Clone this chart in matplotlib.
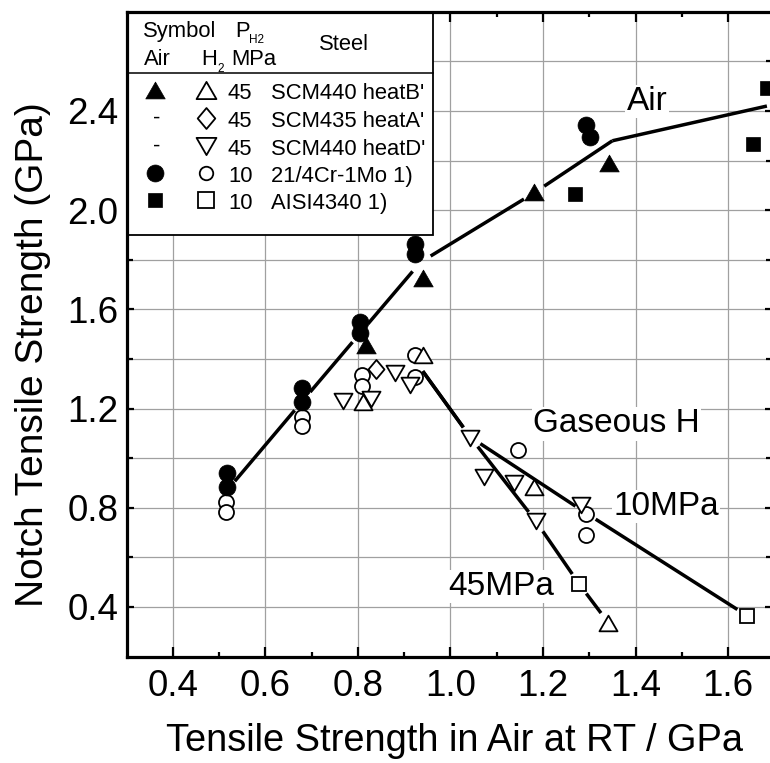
import numpy as np
import matplotlib
matplotlib.use('Agg')
import matplotlib.pyplot as plt
from matplotlib.ticker import FixedLocator, FormatStrFormatter
from matplotlib.transforms import Affine2D
from matplotlib.patches import Rectangle
from matplotlib.lines import Line2D
from matplotlib.path import Path

plt.rcParams['font.family'] = ['Liberation Sans', 'DejaVu Sans']

# ---------------- data ----------------
# SCM440 heatB'
air_B_x = [0.817, 0.941, 1.181, 1.342]
air_B_y = [1.456, 1.725, 2.075, 2.189]
h2_B_x = [0.811, 0.941, 1.181, 1.341]
h2_B_y = [1.225, 1.418, 0.885, 0.337]
# SCM435 heatA'
h2_A_x = [0.840]
h2_A_y = [1.358]
# SCM440 heatD'
h2_D_x = [0.767, 0.829, 0.880, 0.912, 1.043, 1.072, 1.137, 1.185, 1.283]
h2_D_y = [1.229, 1.239, 1.344, 1.297, 1.080, 0.926, 0.902, 0.745, 0.812]
# 2 1/4Cr-1Mo
air_C_x = [0.517, 0.517, 0.680, 0.680, 0.804, 0.804, 0.923, 0.923, 1.292, 1.302]
air_C_y = [0.942, 0.885, 1.282, 1.228, 1.550, 1.504, 1.863, 1.822, 2.344, 2.294]
h2_C_x = [0.515, 0.515, 0.680, 0.680, 0.808, 0.808, 0.923, 0.923, 1.146, 1.292, 1.292]
h2_C_y = [0.825, 0.782, 1.165, 1.130, 1.337, 1.290, 1.418, 1.328, 1.034, 0.776, 0.691]
# AISI4340
air_S_x = [1.269, 1.653, 1.684]
air_S_y = [2.064, 2.267, 2.492]
h2_S_x = [1.278, 1.642]
h2_S_y = [0.493, 0.364]

# trend lines
air_line_x = [0.517, 0.680, 0.805, 0.935, 1.181, 1.350, 1.684]
air_line_y = [0.870, 1.230, 1.505, 1.790, 2.070, 2.280, 2.420]
h10_line_x = [0.925, 1.043, 1.292, 1.642]
h10_line_y = [1.390, 1.085, 0.780, 0.364]
h45_line_x = [0.925, 1.043, 1.185, 1.278, 1.341]
h45_line_y = [1.390, 1.085, 0.745, 0.493, 0.337]

x_ticks = [0.4, 0.6, 0.8, 1.0, 1.2, 1.4, 1.6]
y_ticks = [0.4, 0.8, 1.2, 1.6, 2.0, 2.4]

legend_air = ['tri_up', '-', '-', 'o', 's']
legend_h2 = ['tri_up', 'diamond', 'tri_down', 'o', 's']
legend_p = ['45', '45', '45', '10', '10']
legend_steel = ["SCM440 heatB'", "SCM435 heatA'", "SCM440 heatD'", "21/4Cr-1Mo 1)", "AISI4340 1)"]

# ---------------- figure ----------------
W, H = 770, 763
fig = plt.figure(figsize=(W / 100, H / 100), dpi=100)
ax_l, ax_r, ax_t, ax_b = 126.6, 772.0, 11.8, 656.6
ax = fig.add_axes([ax_l / W, 1 - ax_b / H, (ax_r - ax_l) / W, (ax_b - ax_t) / H])
ax.set_xlim(0.3, 1.695)
ax.set_ylim(0.2, 2.8)
ax.set_axisbelow(True)

TRI_UP = Path([(0, 0.433), (-0.5, -0.433), (0.5, -0.433), (0, 0.433)],
              [Path.MOVETO, Path.LINETO, Path.LINETO, Path.CLOSEPOLY])
TRI_DN = Path([(0, -0.433), (-0.5, 0.433), (0.5, 0.433), (0, -0.433)],
              [Path.MOVETO, Path.LINETO, Path.LINETO, Path.CLOSEPOLY])
DIAM = Path([(0, 0.5), (0.42, 0), (0, -0.5), (-0.42, 0), (0, 0.5)],
            [Path.MOVETO, Path.LINETO, Path.LINETO, Path.LINETO, Path.CLOSEPOLY])
MK = {'tri_up': TRI_UP, 'tri_down': TRI_DN, 'diamond': DIAM, 'o': 'o', 's': 's'}
MS_FILLED = {'tri_up': 14, 'o': 12.2, 's': 10}
MS_OPEN = {'tri_up': 13, 'tri_down': 13, 'diamond': 13.7, 'o': 10.8, 's': 10.2}

# ticks / grid
ax.xaxis.set_major_locator(FixedLocator(x_ticks))
ax.xaxis.set_minor_locator(FixedLocator([0.5, 0.7, 0.9, 1.1, 1.3, 1.5]))
ax.yaxis.set_major_locator(FixedLocator(y_ticks))
ax.yaxis.set_minor_locator(FixedLocator([0.6, 1.0, 1.4, 1.8, 2.2, 2.6]))
ax.xaxis.set_major_formatter(FormatStrFormatter('%.1f'))
ax.yaxis.set_major_formatter(FormatStrFormatter('%.1f'))
ax.tick_params(axis='both', which='both', direction='in', top=True, right=True,
               width=1.6, colors='black', labelsize=26.5)
ax.tick_params(axis='x', which='major', length=7, pad=9)
ax.tick_params(axis='x', which='minor', length=3.5)
ax.tick_params(axis='y', which='major', length=5, pad=6)
ax.tick_params(axis='y', which='minor', length=4.5)
ax.grid(True, axis='x', which='major', color='#a0a0a0', linewidth=0.9)
ax.grid(True, axis='y', which='both', color='#a0a0a0', linewidth=0.9)
for s in ax.spines.values():
    s.set_linewidth(2.3)
    s.set_zorder(2.6)

ax.set_xlabel('Tensile Strength in Air at RT / GPa', fontsize=27.4)
ax.set_ylabel('Notch Tensile Strength (GPa)', fontsize=28)
ax.xaxis.set_label_coords(0.508, -0.103)
ax.yaxis.set_label_coords(-0.117, 0.468)


def gapped_line(xs, ys, gaps, gap_px=12, **kw):
    pts = ax.transData.transform(np.column_stack([xs, ys]))
    inv = ax.transData.inverted()
    for i in range(len(pts) - 1):
        p0, p1 = pts[i], pts[i + 1]
        d = p1 - p0
        u = d / np.hypot(*d)
        a = p0 + u * gap_px * gaps[i]
        b = p1 - u * gap_px * gaps[i + 1]
        seg = inv.transform(np.array([a, b]))
        ax.plot(seg[:, 0], seg[:, 1], color='black', lw=2.5, solid_capstyle='butt', zorder=2.1, **kw)


gapped_line(air_line_x, air_line_y, [1, 1, 1, 1, 1, 0, 0])
gapped_line(h10_line_x, h10_line_y, [1, 1, 1, 1])
gapped_line(h45_line_x, h45_line_y, [1, 1, 1, 1, 1])

# data markers
def filled(x, y, key):
    ax.plot(x, y, ls='none', marker=MK[key], ms=MS_FILLED[key], mfc='black', mec='black',
            mew=0.5, zorder=2.2)


def hollow(x, y, key):
    ax.plot(x, y, ls='none', marker=MK[key], ms=MS_OPEN[key], mfc='white', mec='black',
            mew=1.3, zorder=2.2)


hollow(h2_C_x, h2_C_y, 'o')
hollow(h2_D_x, h2_D_y, 'tri_down')
hollow(h2_A_x, h2_A_y, 'diamond')
hollow(h2_B_x, h2_B_y, 'tri_up')
hollow(h2_S_x, h2_S_y, 's')
filled(air_C_x, air_C_y, 'o')
filled(air_B_x, air_B_y, 'tri_up')
filled(air_S_x, air_S_y, 's')

# annotations
box = dict(facecolor='white', edgecolor='none', pad=1)
ax.text(1.381, 2.404, 'Air', fontsize=24, ha='left', va='baseline', bbox=box, zorder=2.3)
ax.text(1.179, 1.104, 'Gaseous H', fontsize=24, ha='left', va='baseline', bbox=box, zorder=2.3)
ax.text(1.352, 0.771, '10MPa', fontsize=24, ha='left', va='baseline', bbox=box, zorder=2.3)
ax.text(0.995, 0.448, '45MPa', fontsize=24, ha='left', va='baseline', bbox=box, zorder=2.3)

# ---------------- legend (pixel layout) ----------------
pix = Affine2D().scale(1 / W, -1 / H).translate(0, 1) + fig.transFigure
ax.add_patch(Rectangle((127, 12), 433 - 127, 235 - 12, transform=pix, facecolor='white',
                       edgecolor='black', lw=1.3, zorder=2.45, clip_on=False))
ax.add_line(Line2D([127, 433], [73, 73], transform=pix, color='black', lw=1.1,
                   zorder=2.46, clip_on=False))
lfs = 15.8
def ltext(x, y, s, fs=lfs, **kw):
    ax.text(x, y, s, transform=pix, fontsize=fs, ha='left', va='baseline', zorder=2.47,
            clip_on=False, **kw)

ltext(143, 37, 'Symbol')
ltext(235, 37, 'P')
ltext(249, 43, 'H2', fs=8.5)
ltext(319, 50, 'Steel')
ltext(144, 65, 'Air')
ltext(201, 65, 'H')
ltext(217, 72, '2', fs=8.5)
ltext(231, 65, 'MPa')

row_y = [90, 118, 146, 173, 200]
for i in range(5):
    y = row_y[i]
    a = legend_air[i]
    if a == '-':
        ax.text(157, y, '-', transform=pix, fontsize=lfs, ha='center', va='center',
                zorder=2.47, clip_on=False)
    else:
        ax.add_line(Line2D([155], [y], transform=pix, ls='none', marker=MK[a],
                           ms=MS_FILLED[a], mfc='black', mec='black', mew=0.5,
                           zorder=2.47, clip_on=False))
    h = legend_h2[i]
    ax.add_line(Line2D([206], [y], transform=pix, ls='none', marker=MK[h],
                       ms=MS_OPEN[h] * (1.1 if h != 'o' else 0.9), mfc='white', mec='black',
                       mew=1.3, zorder=2.47, clip_on=False))
    ltext(228, y + 9, legend_p[i])
    ltext(271, y + 9, legend_steel[i])

fig.savefig('out.png', dpi=100)
